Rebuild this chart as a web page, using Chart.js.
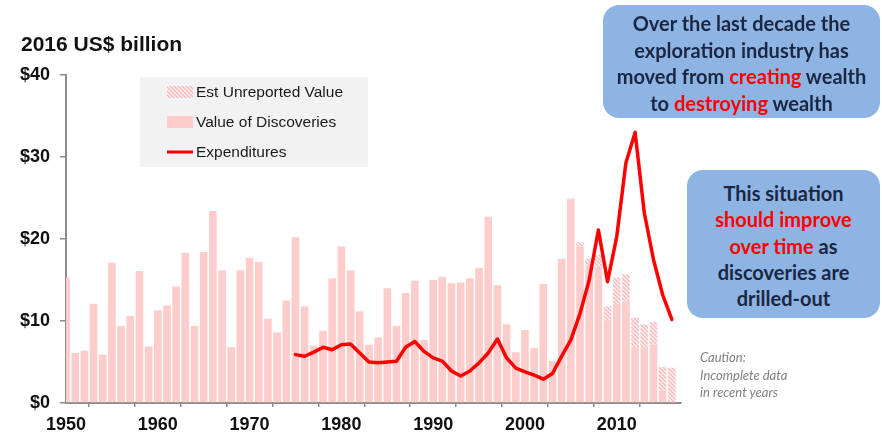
<!DOCTYPE html>
<html>
<head>
<meta charset="utf-8">
<script src="https://cdn.jsdelivr.net/npm/chart.js@4.4.1/dist/chart.umd.min.js"></script>
<style>
  html, body { margin: 0; padding: 0; background: #fff; }
  #wrap { position: relative; width: 882px; height: 437px; overflow: hidden; }
  #chart { position: absolute; left: 0; top: 0; }
  .unit { position: absolute; left: 21px; top: 33px; font: bold 21px/21px "Liberation Sans", Arial, sans-serif; color: #111; white-space: nowrap; }
  .note { position: absolute; background: #8db4e2; border-radius: 16px; color: #1b2742;
          font: bold 20px Lato, sans-serif; text-align: center; box-sizing: border-box; white-space: nowrap; }
  .note .hl { color: #ff0000; }
  .note1 { left: 603px; top: 5px; width: 277px; height: 113px; padding-top: 5px; line-height: 26.7px; }
  .note2 { left: 687px; top: 170px; width: 193px; height: 148px; padding-top: 10px; line-height: 26.3px; }
  .caution { position: absolute; left: 700px; top: 349px; font: italic 13px Lato, sans-serif; color: #808080; line-height: 17.5px; white-space: nowrap; }
</style>
</head>
<body>
<div id="wrap">
  <canvas id="chart" width="882" height="437"></canvas>
  <div class="unit">2016 US$ billion</div>
  <div class="note note1">Over the last decade the<br>exploration industry has<br>moved from <span class="hl">creating</span> wealth<br>to <span class="hl">destroying</span> wealth</div>
  <div class="note note2">This situation<br><span class="hl">should improve</span><br><span class="hl">over time</span> as<br>discoveries are<br>drilled-out</div>
  <div class="caution">Caution:<br>Incomplete data<br>in recent years</div>
</div>
<script>
// Years of discovery records
const years = [1950,1951,1952,1953,1954,1955,1956,1957,1958,1959,
               1960,1961,1962,1963,1964,1965,1966,1967,1968,1969,
               1970,1971,1972,1973,1974,1975,1976,1977,1978,1979,
               1980,1981,1982,1983,1984,1985,1986,1987,1988,1989,
               1990,1991,1992,1993,1994,1995,1996,1997,1998,1999,
               2000,2001,2002,2003,2004,2005,2006,2007,2008,2009,
               2010,2011,2012,2013,2014,2015,2016];

// Reported value of discoveries (2016 US$ billion)
const discoveries = [15.3, 6.1, 6.4,12.1, 5.9,17.1, 9.4,10.6,16.1, 6.9,
                     11.3,11.9,14.2,18.3, 9.4,18.4,23.4,16.2, 6.8,16.2,
                     17.7,17.2,10.3, 8.6,12.5,20.2,11.8, 7.0, 8.8,15.2,
                     19.1,16.2,11.2, 7.1, 8.0,14.0, 9.4,13.4,14.9, 7.7,
                     15.0,15.4,14.6,14.7,15.2,16.5,22.7,14.4, 9.6, 6.2,
                      8.9, 6.7,14.5, 5.1,17.6,24.9,19.1,16.8,16.6,10.1,
                     12.1,12.4, 6.8, 6.8, 7.1, 1.5, 0.0];

// Estimated unreported value on top of reported discoveries
const unreported = [0,0,0,0,0,0,0,0,0,0,
                    0,0,0,0,0,0,0,0,0,0,
                    0,0,0,0,0,0,0,0,0,0,
                    0,0,0,0,0,0,0,0,0,0,
                    0,0,0,0,0,0,0,0,0,0,
                    0,0,0,0,0,0,0.5,0.8,1.5,1.7,
                    3.2,3.3,3.6,2.8,2.8,2.9,4.3];

// Exploration expenditures (2016 US$ billion)
const expYears = [1975,1976,1977,1978,1979,1980,1981,1982,1983,1984,
                  1985,1986,1987,1988,1989,1990,1991,1992,1993,1994,
                  1995,1996,1997,1998,1999,2000,2001,2002,2003,2004,
                  2005,2006,2007,2008,2009,2010,2011,2012,2013,2014,
                  2015,2016];
const expenditures = [5.9, 5.7, 6.2, 6.8, 6.5, 7.1, 7.2, 6.1, 5.0, 4.9,
                      5.0, 5.1, 6.8, 7.5, 6.3, 5.5, 5.1, 3.9, 3.3, 3.9,
                      4.9, 6.1, 7.8, 5.5, 4.25,3.8, 3.4, 2.9, 3.6, 5.7,
                      7.7,10.9,15.0,21.1,14.8,20.3,29.3,33.0,23.2,17.5,
                     13.2,10.2];

// Axis ticks
const xTickYears = [1950,1955,1960,1965,1970,1975,1980,1985,1990,1995,2000,2005,2010,2015];
const yTickValues = [0,10,20,30,40];

const AXIS_GREY = '#8c8c8c';
const BAR_PINK = '#ffcccc';
const LINE_RED = '#ff0000';
const TICK_FONT = { family: '"Liberation Sans", Arial, sans-serif', size: 18, weight: 'bold' };

// Diagonal hatch used for the estimated unreported part of each bar
function makeHatch() {
  const t = document.createElement('canvas');
  t.width = 4; t.height = 4;
  const g = t.getContext('2d');
  g.fillStyle = '#fff3f3';
  g.fillRect(0, 0, 4, 4);
  g.strokeStyle = '#ffb5b5';
  g.lineWidth = 1.3;
  g.beginPath();
  g.moveTo(0, 0); g.lineTo(4, 4);
  g.moveTo(-1, 3); g.lineTo(1, 5);
  g.moveTo(3, -1); g.lineTo(5, 1);
  g.stroke();
  return g.createPattern(t, 'repeat');
}
const hatch = makeHatch();

// Grey legend panel drawn inside the plot
const legendPanel = {
  id: 'legendPanel',
  afterDatasetsDraw(chart) {
    const c = chart.ctx;
    const a = chart.chartArea;
    const x0 = a.left + 74, y0 = a.top + 2;
    c.save();
    c.fillStyle = '#f2f2f2';
    c.fillRect(x0, y0, 228, 90);
    const sx = x0 + 27, sw = 26, tx = x0 + 56;
    const rows = [y0 + 15, y0 + 45, y0 + 75];
    c.fillStyle = hatch;
    c.fillRect(sx, rows[0] - 6, sw, 12);
    c.fillStyle = BAR_PINK;
    c.fillRect(sx, rows[1] - 6, sw, 12);
    c.strokeStyle = LINE_RED;
    c.lineWidth = 3;
    c.beginPath();
    c.moveTo(sx, rows[2]); c.lineTo(sx + sw, rows[2]);
    c.stroke();
    c.fillStyle = '#1a1a1a';
    c.font = '15.5px "Liberation Sans", Arial, sans-serif';
    c.textBaseline = 'middle';
    c.textAlign = 'left';
    const names = chart.data.datasets.map(d => d.label);
    c.fillText(names[2], tx, rows[0] + 1);
    c.fillText(names[1], tx, rows[1] + 1);
    c.fillText(names[0], tx, rows[2] + 1);
    c.restore();
  }
};

const toPoints = (xs, ys) => ys.map((v, i) => ({ x: xs[i], y: v }));

new Chart(document.getElementById('chart').getContext('2d'), {
  type: 'bar',
  data: {
    datasets: [
      {
        type: 'line',
        label: 'Expenditures',
        data: toPoints(expYears, expenditures),
        borderColor: LINE_RED,
        borderWidth: 3.5,
        pointRadius: 0,
        tension: 0,
        fill: false,
        borderJoinStyle: 'round',
        borderCapStyle: 'round',
        stack: 'exp',
        order: 0
      },
      {
        label: 'Value of Discoveries',
        data: toPoints(years, discoveries),
        backgroundColor: BAR_PINK,
        borderWidth: 0,
        barPercentage: 0.83,
        categoryPercentage: 1,
        stack: 'value',
        order: 1
      },
      {
        label: 'Est Unreported Value',
        data: toPoints(years, unreported),
        backgroundColor: hatch,
        borderWidth: 0,
        barPercentage: 0.83,
        categoryPercentage: 1,
        stack: 'value',
        order: 1
      }
    ]
  },
  options: {
    responsive: false,
    animation: false,
    devicePixelRatio: 1,
    layout: { padding: { left: 0, top: 75, right: 201, bottom: 0 } },
    plugins: { legend: { display: false }, tooltip: { enabled: false } },
    scales: {
      x: {
        type: 'linear',
        min: 1950,
        max: 2017,
        offset: false,
        stacked: true,
        grid: { drawOnChartArea: false, drawTicks: true, tickLength: 4, color: AXIS_GREY, lineWidth: 1.5 },
        border: { display: true, color: AXIS_GREY, width: 2 },
        ticks: {
          padding: 7,
          color: '#111',
          font: TICK_FONT,
          maxRotation: 0,
          autoSkip: false,
          callback: v => (v % 10 === 0 ? String(v) : '')
        },
        afterBuildTicks: s => { s.ticks = xTickYears.map(v => ({ value: v })); },
        afterFit: s => { s.height = 34; }
      },
      y: {
        min: 0,
        max: 40,
        stacked: true,
        grid: { drawOnChartArea: false, drawTicks: true, tickLength: 6, color: AXIS_GREY, lineWidth: 1.5 },
        border: { display: true, color: AXIS_GREY, width: 2 },
        ticks: {
          padding: 10,
          color: '#111',
          font: TICK_FONT,
          callback: v => '$' + v
        },
        afterBuildTicks: s => { s.ticks = yTickValues.map(v => ({ value: v })); },
        afterFit: s => { s.width = 66; }
      }
    }
  },
  plugins: [legendPanel]
});
</script>
</body>
</html>
